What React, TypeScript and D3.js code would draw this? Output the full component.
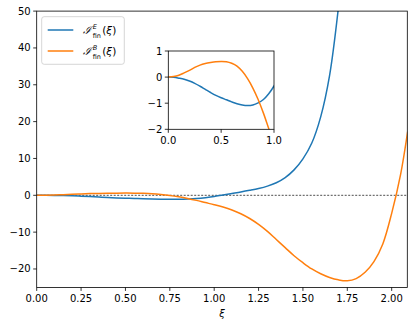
import React from "react";
import * as d3 from "d3";

const blueXi = [0, 0.05, 0.1, 0.15, 0.2, 0.25, 0.3, 0.35, 0.4, 0.45, 0.5, 0.55, 0.6, 0.65, 0.7, 0.75, 0.8, 0.85, 0.9, 0.95, 1.0, 1.05, 1.1, 1.15, 1.2, 1.25, 1.3, 1.35, 1.4, 1.45, 1.5, 1.55, 1.6, 1.65, 1.7];
const blueVals = [0, -0.01, -0.04, -0.08, -0.15, -0.24, -0.35, -0.47, -0.59, -0.7, -0.79, -0.87, -0.95, -1.02, -1.07, -1.09, -1.07, -0.99, -0.86, -0.64, -0.34, 0.1, 0.5, 0.9, 1.35, 1.85, 2.5, 3.4, 4.8, 6.9, 9.9, 14.2, 21.3, 32.5, 51];

const orangeXi = [0, 0.05, 0.1, 0.15, 0.2, 0.25, 0.3, 0.35, 0.4, 0.45, 0.5, 0.55, 0.6, 0.65, 0.7, 0.75, 0.8, 0.85, 0.9, 0.95, 1.0, 1.05, 1.1, 1.15, 1.2, 1.25, 1.3, 1.35, 1.4, 1.45, 1.5, 1.55, 1.6, 1.65, 1.7, 1.75, 1.8, 1.85, 1.9, 1.95, 2.0, 2.05, 2.09];
const orangeVals = [0, 0.02, 0.07, 0.16, 0.26, 0.37, 0.46, 0.52, 0.56, 0.59, 0.6, 0.59, 0.53, 0.42, 0.22, -0.06, -0.42, -0.86, -1.38, -1.97, -2.55, -3.2, -4.0, -5.0, -6.3, -7.9, -9.8, -12.0, -14.2, -16.4, -18.3, -20.0, -21.3, -22.3, -22.95, -23.2, -22.6, -20.9, -18.0, -13.2, -4.9, 5.6, 17.3];

const xTicks = [0, 0.25, 0.5, 0.75, 1.0, 1.25, 1.5, 1.75, 2.0];
const yTicks = [-20, -10, 0, 10, 20, 30, 40, 50];
const insetXTicks = [0, 0.5, 1.0];
const insetYTicks = [-2, -1, 0, 1];

const BLUE = "#1f77b4";
const ORANGE = "#ff7f0e";
const FONT = "DejaVu Sans, sans-serif";

const fmtY = (v: number) => (v < 0 ? "\u2212" + Math.abs(v) : String(v));

export default function App() {
  const W = 415, H = 328;
  const m = { left: 36.7, right: 407.3, top: 11.1, bottom: 287.4 };
  const x = d3.scaleLinear().domain([0, 2.088]).range([m.left, m.right]);
  const y = d3.scaleLinear().domain([-25, 50]).range([m.bottom, m.top]);

  const ins = { left: 168.3, right: 274, top: 51, bottom: 129.3 };
  const ix = d3.scaleLinear().domain([0, 1]).range([ins.left, ins.right]);
  const iy = d3.scaleLinear().domain([-2, 1]).range([ins.bottom, ins.top]);

  const blue = blueXi.map((v, i) => [v, blueVals[i]] as [number, number]);
  const orange = orangeXi.map((v, i) => [v, orangeVals[i]] as [number, number]);

  const line = d3.line<[number, number]>().x(d => x(d[0])).y(d => y(d[1])).curve(d3.curveCatmullRom.alpha(0.5));
  const iline = d3.line<[number, number]>().x(d => ix(d[0])).y(d => iy(d[1])).curve(d3.curveCatmullRom.alpha(0.5));

  // I_fin^E(xi) style label: script I, stacked sup/sub, then (xi)
  const legendLabel = (lx: number, ly: number, sup: string) => (
    <g fontFamily={FONT}>
      <text x={lx} y={ly} fontSize={11} fontStyle="italic" fontFamily="DejaVu Serif, serif">ℐ</text>
      <text x={lx + 10} y={ly - 5.5} fontSize={6.5} fontStyle="italic">{sup}</text>
      <text x={lx + 10} y={ly + 3.5} fontSize={6.5}>fin</text>
      <text x={lx + 19.5} y={ly} fontSize={10.5}>(<tspan fontStyle="italic">ξ</tspan>)</text>
    </g>
  );

  return (
    <svg width={W} height={H} style={{ position: "absolute", left: 0, top: 0, background: "#fff" }}>
      <defs>
        <clipPath id="main-clip">
          <rect x={m.left} y={m.top} width={m.right - m.left} height={m.bottom - m.top} />
        </clipPath>
        <clipPath id="inset-clip">
          <rect x={ins.left} y={ins.top} width={ins.right - ins.left} height={ins.bottom - ins.top} />
        </clipPath>
      </defs>

      {/* main plot */}
      <g clipPath="url(#main-clip)">
        <line x1={m.left} x2={m.right} y1={y(0)} y2={y(0)} stroke="#000" strokeWidth={0.7} strokeDasharray="2,1.5" />
        <path d={line(blue) || ""} fill="none" stroke={BLUE} strokeWidth={1.5} />
        <path d={line(orange) || ""} fill="none" stroke={ORANGE} strokeWidth={1.5} />
      </g>
      <rect x={m.left} y={m.top} width={m.right - m.left} height={m.bottom - m.top} fill="none" stroke="#000" strokeWidth={0.8} />

      <g fontFamily={FONT} fontSize={10} fill="#000">
        {xTicks.map(t => (
          <g key={"x" + t}>
            <line x1={x(t)} x2={x(t)} y1={m.bottom} y2={m.bottom + 3.5} stroke="#000" strokeWidth={0.8} />
            <text x={x(t)} y={m.bottom + 14.5} textAnchor="middle">{t.toFixed(2)}</text>
          </g>
        ))}
        {yTicks.map(t => (
          <g key={"y" + t}>
            <line x1={m.left - 3.5} x2={m.left} y1={y(t)} y2={y(t)} stroke="#000" strokeWidth={0.8} />
            <text x={m.left - 6} y={y(t)} dy="0.35em" textAnchor="end">{fmtY(t)}</text>
          </g>
        ))}
        <text x={(m.left + m.right) / 2} y={317} textAnchor="middle" fontStyle="italic">ξ</text>
      </g>

      {/* legend */}
      <rect x={41.7} y={16.7} width={82.6} height={47.6} rx={2.5} fill="#fff" fillOpacity={0.8} stroke="#ccc" strokeWidth={0.8} />
      <line x1={47.7} x2={73.3} y1={30} y2={30} stroke={BLUE} strokeWidth={1.5} />
      <line x1={47.7} x2={73.3} y1={51} y2={51} stroke={ORANGE} strokeWidth={1.5} />
      {legendLabel(82.7, 34, "E")}
      {legendLabel(82.7, 55, "B")}

      {/* inset */}
      <rect x={ins.left} y={ins.top} width={ins.right - ins.left} height={ins.bottom - ins.top} fill="#fff" />
      <g clipPath="url(#inset-clip)">
        <path d={iline(blue.filter(d => d[0] <= 1.05)) || ""} fill="none" stroke={BLUE} strokeWidth={1.5} />
        <path d={iline(orange.filter(d => d[0] <= 1.05)) || ""} fill="none" stroke={ORANGE} strokeWidth={1.5} />
      </g>
      <rect x={ins.left} y={ins.top} width={ins.right - ins.left} height={ins.bottom - ins.top} fill="none" stroke="#000" strokeWidth={0.8} />
      <g fontFamily={FONT} fontSize={10} fill="#000">
        {insetXTicks.map(t => (
          <g key={"ix" + t}>
            <line x1={ix(t)} x2={ix(t)} y1={ins.bottom} y2={ins.bottom + 3.5} stroke="#000" strokeWidth={0.8} />
            <text x={ix(t)} y={ins.bottom + 14.5} textAnchor="middle">{t.toFixed(1)}</text>
          </g>
        ))}
        {insetYTicks.map(t => (
          <g key={"iy" + t}>
            <line x1={ins.left - 3.5} x2={ins.left} y1={iy(t)} y2={iy(t)} stroke="#000" strokeWidth={0.8} />
            <text x={ins.left - 6} y={iy(t)} dy="0.35em" textAnchor="end">{fmtY(t)}</text>
          </g>
        ))}
      </g>
    </svg>
  );
}
